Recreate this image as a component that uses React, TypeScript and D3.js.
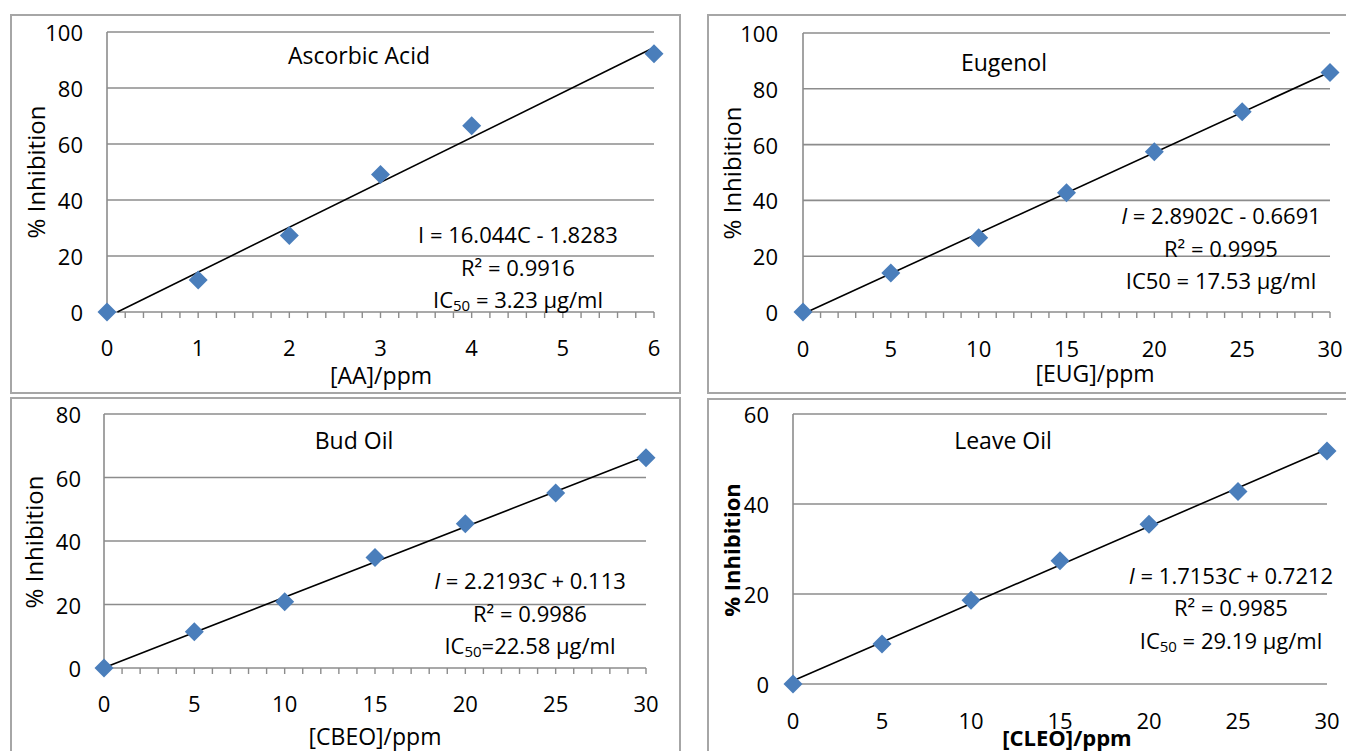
import React from "react";
import * as d3 from "d3";

const AA_X = [0, 1, 2, 3, 4, 6];
const AA_Y = [0, 11.4, 27.3, 49.1, 66.5, 92.2];
const OIL_X = [0, 5, 10, 15, 20, 25, 30];
const EUG_Y = [0, 14, 26.6, 42.7, 57.4, 71.8, 85.8];
const CBEO_Y = [0, 11.4, 20.9, 34.8, 45.4, 55.1, 66.2];
const CLEO_Y = [0, 8.9, 18.6, 27.4, 35.5, 42.8, 51.8];

const AA_XTICKS = [0, 1, 2, 3, 4, 5, 6];
const OIL_XTICKS = [0, 5, 10, 15, 20, 25, 30];
const Y100_TICKS = [0, 20, 40, 60, 80, 100];
const Y80_TICKS = [0, 20, 40, 60, 80];
const Y60_TICKS = [0, 20, 40, 60];

const TITLES = ["Ascorbic Acid", "Eugenol", "Bud Oil", "Leave Oil"];
const XTITLES = ["[AA]/ppm", "[EUG]/ppm", "[CBEO]/ppm", "[CLEO]/ppm"];
const YTITLE = "% Inhibition";
// slope, intercept
const FITS = [
  [16.044, -1.8283],
  [2.8902, -0.6691],
  [2.2193, 0.113],
  [1.7153, 0.7212],
];
const R2 = ["0.9916", "0.9995", "0.9986", "0.9985"];
const IC50 = ["3.23", "17.53", "22.58", "29.19"];

const FONT = "'Open Sans', sans-serif";
const BLUE = "#4A7EBB";
const GRID = "#8c8c8c";

type PanelCfg = {
  idx: number;
  frame: [number, number, number, number];
  px0: number; px1: number; py0: number; py1: number;
  xDomain: [number, number]; yDomain: [number, number];
  xs: number[]; ys: number[];
  xticks: number[]; yticks: number[];
  minor: number | null;
  ylabRight: number; xlabY: number;
  xtitle: [number, number]; ytitle: [number, number];
  title: [number, number];
  ann: [number, number, number, number];
  bold: boolean;
};

function Equation({ idx }: { idx: number }) {
  const [m, b] = FITS[idx];
  const sign = b < 0 ? " - " : " + ";
  const italicI = idx > 0;
  const italicC = idx > 1;
  return (
    <>
      <tspan fontStyle={italicI ? "italic" : "normal"}>I</tspan>
      <tspan>{` = ${m}`}</tspan>
      <tspan fontStyle={italicC ? "italic" : "normal"}>C</tspan>
      <tspan>{`${sign}${Math.abs(b)}`}</tspan>
    </>
  );
}

function Panel({ c }: { c: PanelCfg }) {
  const x = d3.scaleLinear().domain(c.xDomain).range([c.px0, c.px1]);
  const y = d3.scaleLinear().domain(c.yDomain).range([c.py0, c.py1]);
  const [m, b] = FITS[c.idx];
  const cStart = Math.max(c.xDomain[0], -b / m);
  const fit = [cStart, c.xDomain[1]].map((v) => [x(v), y(m * v + b)] as [number, number]);
  const line = d3.line();
  const minorTicks = c.minor
    ? d3.range(c.xDomain[0], c.xDomain[1] + 1e-9, c.minor)
    : [];
  const [fx0, fy0, fx1, fy1] = c.frame;
  const hd = 9.5;
  return (
    <g>
      <rect x={fx0} y={fy0} width={fx1 - fx0} height={fy1 - fy0} fill="white" stroke="#a6a6a6" strokeWidth={2} />
      {c.yticks.map((t) => (
        <line key={"g" + t} x1={c.px0} x2={c.px1} y1={y(t)} y2={y(t)} stroke={GRID} strokeWidth={1.6} />
      ))}
      <line x1={c.px0} x2={c.px0} y1={y(c.yDomain[0])} y2={y(c.yDomain[1])} stroke={GRID} strokeWidth={1.6} />
      {minorTicks.map((t, i) => (
        <line key={"m" + i} x1={x(t)} x2={x(t)} y1={c.py0} y2={c.py0 + 6} stroke={GRID} strokeWidth={1.4} />
      ))}
      {c.yticks.map((t) => (
        <text key={"yl" + t} x={c.ylabRight} y={y(t)} textAnchor="end" dominantBaseline="central" fontFamily={FONT} fontSize={22} fill="#000">
          {t}
        </text>
      ))}
      {c.xticks.map((t) => (
        <text key={"xl" + t} x={x(t)} y={c.xlabY} textAnchor="middle" dominantBaseline="central" fontFamily={FONT} fontSize={22} fill="#000">
          {t}
        </text>
      ))}
      <text x={c.title[0]} y={c.title[1]} textAnchor="middle" dominantBaseline="central" fontFamily={FONT} fontSize={23} fill="#000">
        {TITLES[c.idx]}
      </text>
      <text x={c.xtitle[0]} y={c.xtitle[1]} textAnchor="middle" dominantBaseline="central" fontFamily={FONT} fontSize={c.bold ? 22 : 23} fontWeight={c.bold ? "bold" : "normal"} fill="#000">
        {XTITLES[c.idx]}
      </text>
      <text transform={`translate(${c.ytitle[0]},${c.ytitle[1]}) rotate(-90)`} textAnchor="middle" dominantBaseline="central" fontFamily={FONT} fontSize={c.bold ? 22 : 24} fontWeight={c.bold ? "bold" : "normal"} fill="#000">
        {YTITLE}
      </text>
      <path d={line(fit) || ""} stroke="#000" strokeWidth={1.6} fill="none" />
      {c.xs.map((v, i) => {
        const cx = x(v), cy = y(c.ys[i]);
        return (
          <path key={"p" + i} d={`M${cx},${cy - hd}L${cx + hd},${cy}L${cx},${cy + hd}L${cx - hd},${cy}Z`} fill={BLUE} stroke="none" />
        );
      })}
      <g fontFamily={FONT} fontSize={22} fill="#000" textAnchor="middle">
        <text x={c.ann[0]} y={c.ann[1]} dominantBaseline="central">
          <Equation idx={c.idx} />
        </text>
        <text x={c.ann[0]} y={c.ann[2]} dominantBaseline="central">
          {`R² = ${R2[c.idx]}`}
        </text>
        <text x={c.ann[0]} y={c.ann[3]} dominantBaseline="central">
          {c.idx === 1 ? (
            `IC50 = ${IC50[c.idx]} µg/ml`
          ) : (
            <>
              <tspan>IC</tspan>
              <tspan fontSize={15} dy={6}>50</tspan>
              <tspan dy={-6}>{c.idx === 2 ? `=${IC50[c.idx]} µg/ml` : ` = ${IC50[c.idx]} µg/ml`}</tspan>
            </>
          )}
        </text>
      </g>
    </g>
  );
}

const PANELS: PanelCfg[] = [
  {
    idx: 0, frame: [11, 15, 680, 393],
    px0: 107, px1: 654, py0: 312, py1: 32,
    xDomain: [0, 6], yDomain: [0, 100],
    xs: AA_X, ys: AA_Y, xticks: AA_XTICKS, yticks: Y100_TICKS, minor: 0.2,
    ylabRight: 83, xlabY: 347, xtitle: [381, 375], ytitle: [35, 172], title: [359, 55],
    ann: [518, 234, 267, 299], bold: false,
  },
  {
    idx: 1, frame: [708, 15, 1350, 393],
    px0: 803, px1: 1330, py0: 312, py1: 33,
    xDomain: [0, 30], yDomain: [0, 100],
    xs: OIL_X, ys: EUG_Y, xticks: OIL_XTICKS, yticks: Y100_TICKS, minor: 1,
    ylabRight: 778, xlabY: 348, xtitle: [1095, 373], ytitle: [731, 173], title: [1004, 62],
    ann: [1221, 215, 248, 280], bold: false,
  },
  {
    idx: 2, frame: [11, 398, 680, 760],
    px0: 104, px1: 646, py0: 668, py1: 414,
    xDomain: [0, 30], yDomain: [0, 80],
    xs: OIL_X, ys: CBEO_Y, xticks: OIL_XTICKS, yticks: Y80_TICKS, minor: 1,
    ylabRight: 81, xlabY: 703, xtitle: [375, 736], ytitle: [33, 542], title: [354, 440],
    ann: [530, 580, 613, 645], bold: false,
  },
  {
    idx: 3, frame: [708, 399, 1350, 760],
    px0: 793, px1: 1327, py0: 684, py1: 414,
    xDomain: [0, 30], yDomain: [0, 60],
    xs: OIL_X, ys: CLEO_Y, xticks: OIL_XTICKS, yticks: Y60_TICKS, minor: null,
    ylabRight: 769, xlabY: 720, xtitle: [1067, 737], ytitle: [731, 550], title: [1003, 440],
    ann: [1231, 575, 607, 640], bold: true,
  },
];

export default function App() {
  return (
    <svg width={1346} height={751} style={{ position: "fixed", left: 0, top: 0, background: "white" }}>
      <rect x={0} y={0} width={1346} height={751} fill="white" />
      {PANELS.map((c) => (
        <Panel key={c.idx} c={c} />
      ))}
    </svg>
  );
}
